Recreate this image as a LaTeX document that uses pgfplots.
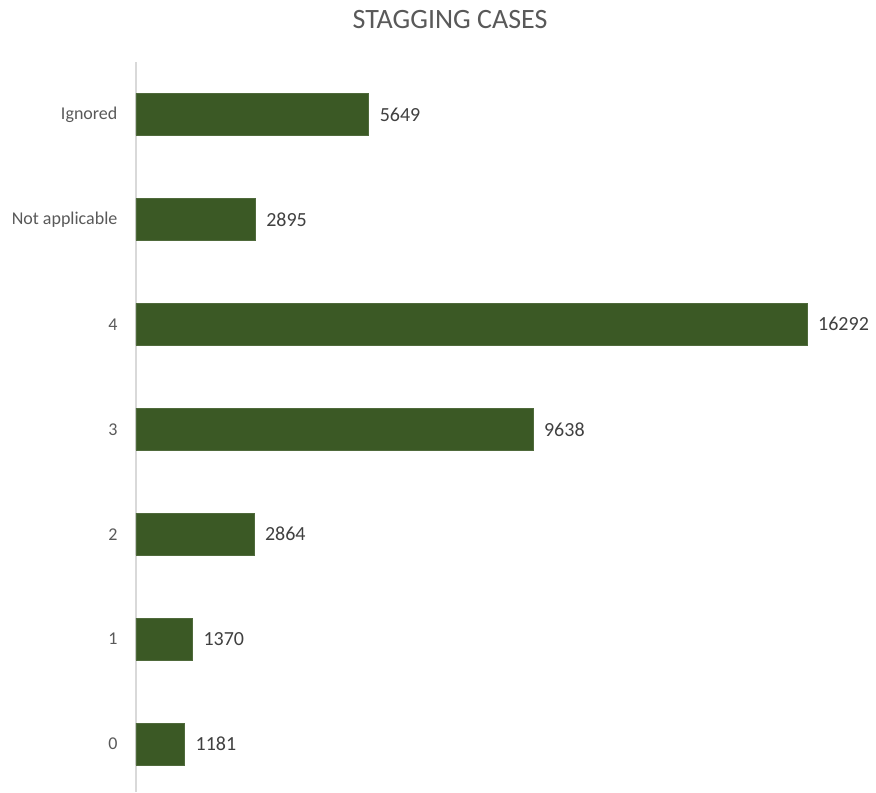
\documentclass[border=0pt]{standalone}
\usepackage{pgfplots}
\pgfplotsset{compat=1.18}
\usepackage{fontspec}
\setmainfont{Carlito}
\definecolor{bargreen}{RGB}{59,89,37}
\definecolor{lbl}{RGB}{64,64,64}
\definecolor{tlbl}{RGB}{89,89,89}
\definecolor{axl}{RGB}{217,217,217}
\begin{document}
\begin{tikzpicture}
\path[use as bounding box] (-68pt,0) rectangle (370pt,396pt);
\begin{axis}[
  at={(0,0)}, anchor=south west,
  scale only axis,
  width=362.5pt, height=365pt,
  xmin=0, xmax=17600,
  ymin=-0.457, ymax=6.5,
  xbar, bar width=21pt,
  axis x line=none,
  axis y line*=left,
  y axis line style={-, draw=axl, line width=0.8pt},
  ytick={0,1,2,3,4,5,6},
  yticklabels={0,1,2,3,4,Not applicable,Ignored},
  ytick style={draw=none},
  yticklabel style={font=\fontsize{9}{11}\selectfont, text=tlbl, xshift=-1.5pt},
  /pgf/number format/assume math mode=true,
  /pgf/number format/1000 sep={},
  nodes near coords,
  nodes near coords style={font=\fontsize{10}{12}\selectfont, text=lbl, anchor=west, xshift=2pt},
  clip=false,
]
\addplot[fill=bargreen, draw=bargreen!90!white] coordinates {
  (1181,0) (1370,1) (2864,2) (9638,3) (16292,4) (2895,5) (5649,6)
};
\end{axis}
\node[text=tlbl, font=\fontsize{14}{16}\selectfont] at (157pt,386pt) {STAGGING CASES};
\end{tikzpicture}
\end{document}
